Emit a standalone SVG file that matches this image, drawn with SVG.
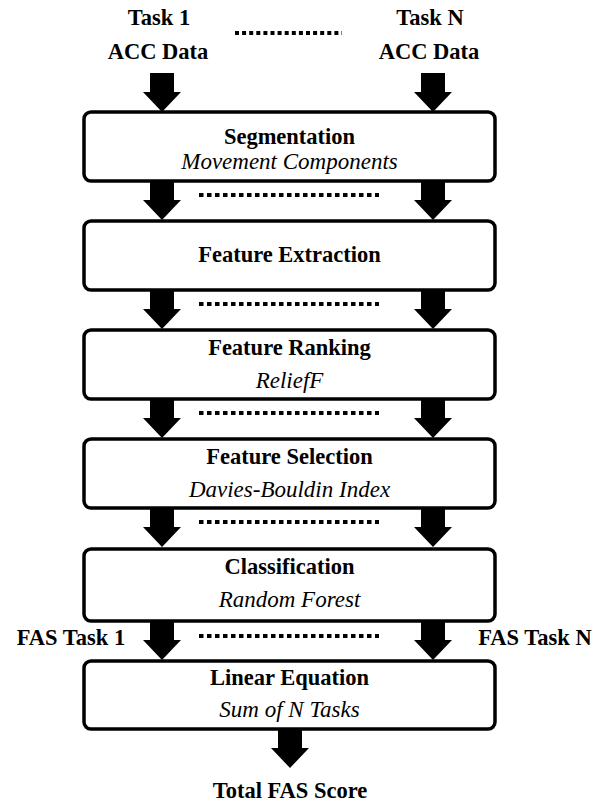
<svg xmlns="http://www.w3.org/2000/svg" width="602" height="803" viewBox="0 0 602 803">
<defs>
<style>
.box{fill:#fff;stroke:#000;stroke-width:3.5}
.t{font-family:"Liberation Serif","Times New Roman",serif;font-size:22.5px;font-weight:bold;text-anchor:middle;fill:#000}
.i{font-family:"Liberation Serif","Times New Roman",serif;font-size:23px;font-style:italic;text-anchor:middle;fill:#000}
.dots{stroke:#000;stroke-width:4;stroke-dasharray:4.5 3.5;fill:none}
.arr{fill:#000}
</style>
<path id="a" d="M-12,0 H12 V19 H19 L0,39 L-19,19 H-12 Z"/>
</defs>
<rect width="602" height="803" fill="#fff"/>
<g id="labels">
<text class="t" x="159" y="25">Task 1</text>
<text class="t" x="158" y="59">ACC Data</text>
<text class="t" x="430" y="25">Task N</text>
<text class="t" x="429" y="59">ACC Data</text>
<text class="t" x="71" y="645">FAS Task 1</text>
<text class="t" x="535" y="645">FAS Task N</text>
<text class="t" x="290" y="798">Total FAS Score</text>
</g>
<g id="connectors">
<use href="#a" class="arr" x="162" y="73"/>
<use href="#a" class="arr" x="433" y="73"/>
<use href="#a" class="arr" x="162" y="181"/>
<use href="#a" class="arr" x="433" y="181"/>
<use href="#a" class="arr" x="162" y="290"/>
<use href="#a" class="arr" x="433" y="290"/>
<use href="#a" class="arr" x="162" y="399"/>
<use href="#a" class="arr" x="433" y="399"/>
<use href="#a" class="arr" x="162" y="508"/>
<use href="#a" class="arr" x="433" y="508"/>
<use href="#a" class="arr" x="162" y="621"/>
<use href="#a" class="arr" x="433" y="621"/>
<use href="#a" class="arr" x="290" y="729"/>
<line class="dots" x1="235" y1="33" x2="342" y2="33" style="stroke-dasharray:4 3.1"/>
<line class="dots" x1="199" y1="195" x2="379" y2="195"/>
<line class="dots" x1="199" y1="304" x2="379" y2="304"/>
<line class="dots" x1="199" y1="413" x2="379" y2="413"/>
<line class="dots" x1="199" y1="522" x2="379" y2="522"/>
<line class="dots" x1="199" y1="636" x2="379" y2="636"/>
</g>
<g id="segmentation">
<rect class="box" x="84" y="112" width="411" height="69" rx="7"/>
<text class="t" x="289.5" y="144">Segmentation</text>
<text class="i" x="289.5" y="169">Movement Components</text>
</g>
<g id="feature-extraction">
<rect class="box" x="84" y="221" width="411" height="69" rx="7"/>
<text class="t" x="289.5" y="262">Feature Extraction</text>
</g>
<g id="feature-ranking">
<rect class="box" x="84" y="330" width="411" height="69" rx="7"/>
<text class="t" x="289.5" y="355">Feature Ranking</text>
<text class="i" x="289.5" y="388">ReliefF</text>
</g>
<g id="feature-selection">
<rect class="box" x="84" y="439" width="411" height="69" rx="7"/>
<text class="t" x="289.5" y="464">Feature Selection</text>
<text class="i" x="289.5" y="497">Davies-Bouldin Index</text>
</g>
<g id="classification">
<rect class="box" x="84" y="549" width="411" height="72" rx="7"/>
<text class="t" x="289.5" y="574">Classification</text>
<text class="i" x="289.5" y="607">Random Forest</text>
</g>
<g id="linear-equation">
<rect class="box" x="84" y="661" width="411" height="68" rx="7"/>
<text class="t" x="289.5" y="685">Linear Equation</text>
<text class="i" x="289.5" y="717">Sum of N Tasks</text>
</g>
</svg>
